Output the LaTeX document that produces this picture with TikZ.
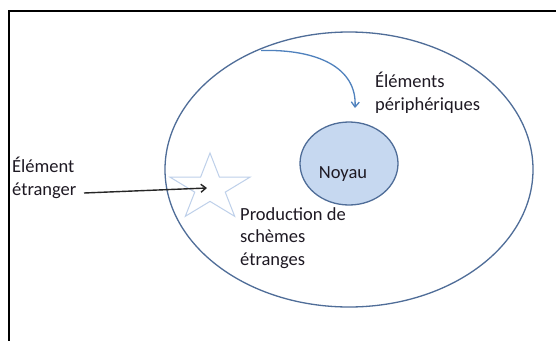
\documentclass[tikz,border=0pt]{standalone}
\usepackage{fontspec}
\setmainfont{Carlito}
\usetikzlibrary{arrows.meta,shapes.geometric}
\definecolor{ellblue}{RGB}{79,109,152}
\definecolor{noyfill}{RGB}{198,216,240}
\definecolor{starblue}{RGB}{190,208,234}
\definecolor{arrblue}{RGB}{79,129,189}
\definecolor{txt}{RGB}{30,25,35}
\tikzset{
  lbl/.style={inner sep=0pt, anchor=base west, align=left, text=txt,
    font=\fontsize{18.5pt}{22.5pt}\selectfont},
  barb/.style={-{Straight Barb[length=5pt,width=8pt]}}
}
\begin{document}
\begin{tikzpicture}[x=1pt,y=-1pt]
\useasboundingbox (0,0) rectangle (556,340);
\fill[white] (0,0) rectangle (556,340);
% frame
\draw[line width=2pt] (8.5,360) -- (8.5,11) -- (580,11);
% outer ellipse
\node[draw=ellblue, line width=1.3pt, shape=ellipse, minimum width=368pt, minimum height=275pt, inner sep=0pt] (outer) at (349,169.5) {};
% noyau
\node[draw=ellblue, fill=noyfill, line width=1.3pt, shape=ellipse, minimum width=98pt, minimum height=83pt, inner sep=0pt] (noyau) at (349,163.5) {};
\node[lbl, anchor=base] (noyaut) at (343,178) {Noyau};
% star
\draw[starblue, line width=1pt, line join=miter]
  (210,153) -- (219.43,177.18) -- (249.94,177.18) -- (225.25,192.13)
  -- (234.69,216.32) -- (210,201.37) -- (185.31,216.32) -- (194.75,192.13)
  -- (170.06,177.18) -- (200.57,177.18) -- cycle;
\coordinate (startip) at (207,188);
% labels (base anchor = baseline of last line)
\node[lbl] (etr) at (12,195) {Élément\\étranger};
\node[lbl] (peri) at (375,110) {Éléments\\périphériques};
\node[lbl] (prod) at (240,265) {Production de\\schèmes\\étranges};
% arrows
\coordinate (etrend) at (84,193);
\draw[barb, line width=1.4pt, black!85] (etrend) -- (startip);
\coordinate (cstart) at (261,50.5);
\coordinate (ctip) at (355,108);
\draw[barb, arrblue, line width=1.3pt] (cstart) .. controls (318,49) and (357,68) .. (ctip);
\end{tikzpicture}
\end{document}
